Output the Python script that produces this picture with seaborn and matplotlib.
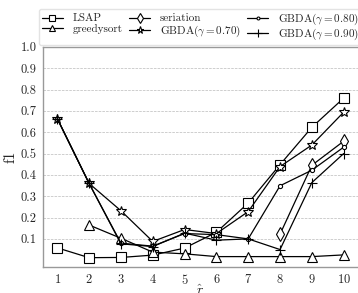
import numpy as np
import pandas as pd
import matplotlib
matplotlib.use("Agg")
import matplotlib.pyplot as plt
import seaborn as sns

r_hat = [1, 2, 3, 4, 5, 6, 7, 8, 9, 10]
lsap = [0.058, 0.012, 0.013, 0.024, 0.057, 0.131, 0.268, 0.448, 0.623, 0.760]
greedysort = [np.nan, 0.165, 0.103, 0.038, 0.030, 0.017, 0.017, 0.017, 0.017, 0.025]
seriation = [np.nan, np.nan, np.nan, np.nan, np.nan, np.nan, np.nan, 0.122, 0.445, 0.558]
gbda_70 = [0.664, 0.360, 0.232, 0.088, 0.144, 0.125, 0.228, 0.439, 0.540, 0.694]
gbda_80 = [0.664, 0.360, 0.080, 0.066, 0.125, 0.120, 0.100, 0.349, 0.422, 0.530]
gbda_90 = [0.664, 0.360, 0.077, 0.064, 0.127, 0.094, 0.100, 0.050, 0.364, 0.500]

labels = ["LSAP", "greedysort", "seriation",
          r"GBDA($\gamma=0.70$)", r"GBDA($\gamma=0.80$)", r"GBDA($\gamma=0.90$)"]
series = [lsap, greedysort, seriation, gbda_70, gbda_80, gbda_90]
markers = ["s", "^", "d", "*", "o", "+"]
msizes = [6.5, 6.5, 7, 7.5, 3, 7.5]

sns.set_style("white")
plt.rcParams["font.family"] = "serif"
plt.rcParams["font.serif"] = ["cmr10", "DejaVu Serif"]
plt.rcParams["mathtext.fontset"] = "cm"
plt.rcParams["axes.formatter.use_mathtext"] = True

fig = plt.figure(figsize=(3.58, 2.93), dpi=100)
ax = fig.add_axes([0.12, 0.09, 0.88, 0.75])

for lab, vals, mk, ms in zip(labels, series, markers, msizes):
    df = pd.DataFrame({"r": r_hat, "f1": vals}).dropna()
    sns.lineplot(data=df, x="r", y="f1", ax=ax, color="k", lw=0.9,
                 marker=mk, markersize=ms, markerfacecolor="w",
                 markeredgecolor="k", markeredgewidth=0.8, label=lab)

ax.set_xlim(0.55, 10.45)
ax.set_ylim(-0.03, 1.0)
ax.set_xticks(r_hat)
yt = np.round(np.arange(0.1, 1.01, 0.1), 1)
ax.set_yticks(yt)
ax.set_yticklabels([f"{v:.1f}" for v in yt])
ax.yaxis.grid(True, ls="--", lw=0.5, color="#bbbbbb")
ax.xaxis.grid(False)
ax.tick_params(labelsize=9, length=3, width=0.8, color="#999999", pad=1.5)
for s in ["left", "bottom", "top"]:
    ax.spines[s].set_color("#999999")
    ax.spines[s].set_linewidth(1.0)
ax.spines["right"].set_visible(False)
ax.set_xlabel(r"$\hat{r}$", fontsize=10, labelpad=-3)
ax.set_ylabel("f1", fontsize=11, labelpad=2)

ax.legend(ncol=3, loc="lower center", bbox_to_anchor=(0.5, 1.0), fontsize=8,
          frameon=True, edgecolor="#dddddd", handlelength=1.9, labelspacing=0.05,
          columnspacing=0.55, handletextpad=0.9, borderpad=0.25, borderaxespad=0.15,
          markerscale=0.7)

fig.savefig("out.png", dpi=100)
